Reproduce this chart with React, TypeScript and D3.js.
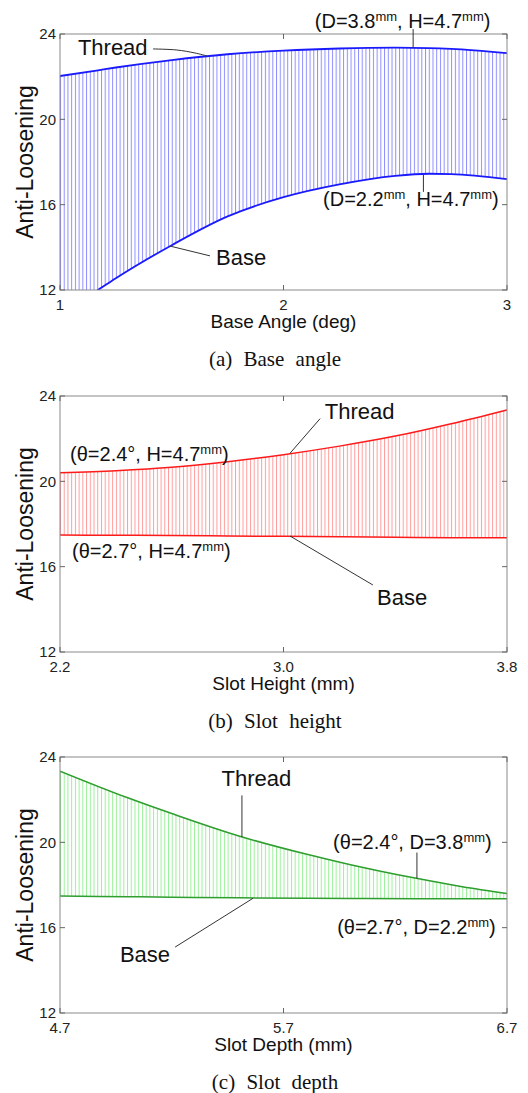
import React from "react";
import * as d3 from "d3";

// shared y axis
const yTicks = [12, 16, 20, 24];

// (a) base angle
const angleX = [1, 1.17, 1.25, 1.5, 1.75, 2, 2.25, 2.5, 2.65, 2.75, 3];
const angleThread = [22.03, 22.3, 22.43, 22.78, 23.05, 23.22, 23.32, 23.36, 23.34, 23.3, 23.1];
const angleBase = [10.9, 12.0, 12.55, 14.1, 15.45, 16.35, 16.95, 17.35, 17.45, 17.43, 17.2];
const angleTicks = [1, 2, 3];
const angleTickLabels = ["1", "2", "3"];

// (b) slot height
const heightX = [2.2, 2.4, 2.6, 2.8, 3.0, 3.2, 3.4, 3.6, 3.8];
const heightThread = [20.4, 20.5, 20.66, 20.92, 21.25, 21.65, 22.12, 22.7, 23.35];
const heightBase = [17.48, 17.47, 17.46, 17.44, 17.42, 17.4, 17.38, 17.36, 17.35];
const heightTicks = [2.2, 3.0, 3.8];
const heightTickLabels = ["2.2", "3.0", "3.8"];

// (c) slot depth
const depthX = [4.7, 5.0, 5.2, 5.5, 5.8, 6.0, 6.3, 6.5, 6.7];
const depthThread = [23.34, 22.1, 21.35, 20.3, 19.45, 18.95, 18.3, 17.92, 17.6];
const depthBase = [17.48, 17.45, 17.43, 17.4, 17.38, 17.37, 17.36, 17.36, 17.36];
const depthTicks = [4.7, 5.7, 6.7];
const depthTickLabels = ["4.7", "5.7", "6.7"];

// annotation texts ("^" = superscript)
const angleNoteText = [["Thread"], ["(D=3.8", "^mm", ", H=4.7", "^mm", ")"], ["(D=2.2", "^mm", ", H=4.7", "^mm", ")"], ["Base"]];
const angleNoteAt = [[1.08, 23.02], [2.14, 24.28], [2.177, 15.94], [1.698, 13.17]];
const angleLeaders = [
  [[1.416, 23.3], [1.523, 23.25], [1.604, 23.11], [1.658, 22.97]],
  [[2.58, 24.23], [2.58, 23.34]],
  [[2.626, 17.39], [2.626, 16.6]],
  [[1.492, 14.06], [1.671, 13.6]],
];

const heightNoteText = [["Thread"], ["(θ=2.4°, H=4.7", "^mm", ")"], ["(θ=2.7°, H=4.7", "^mm", ")"], ["Base"]];
const heightNoteAt = [[3.148, 22.94], [2.236, 20.95], [2.243, 16.4], [3.335, 14.2]];
const heightLeaders = [
  [[3.131, 22.94], [3.023, 21.31]],
  [[3.023, 17.44], [3.32, 15.14]],
];

const depthNoteText = [["Thread"], ["(θ=2.4°, D=3.8", "^mm", ")"], ["(θ=2.7°, D=2.2", "^mm", ")"], ["Base"]];
const depthNoteAt = [[5.423, 22.62], [5.922, 19.7], [5.94, 15.7], [4.968, 14.37]];
const depthLeaders = [
  [[5.514, 22.2], [5.514, 20.25]],
  [[6.297, 19.52], [6.297, 18.3]],
  [[5.215, 15.09], [5.564, 17.38]],
];

const X0 = 60, X1 = 507, PH = 256;
const SANS = "'Liberation Sans', Arial, sans-serif";
const SERIF = "'Liberation Serif', 'Times New Roman', serif";

function Note({ parts, x, y, size }) {
  let raised = false;
  return (
    <text x={x} y={y} fontSize={size} fill="#111" fontFamily={SANS}>
      {parts.map((p, i) => {
        if (p.startsWith("^")) {
          raised = true;
          return <tspan key={i} dy={-7} fontSize={13}>{p.slice(1)}</tspan>;
        }
        const dy = raised ? 7 : 0;
        raised = false;
        return <tspan key={i} dy={dy}>{p}</tspan>;
      })}
    </text>
  );
}

function Panel({ id, top, xs, thread, base, ticks, tickLabels, line, hatch, lw, xLabel, caption, noteText, noteAt, leaders }) {
  const x = d3.scaleLinear().domain([ticks[0], ticks[ticks.length - 1]]).range([X0, X1]);
  const y = d3.scaleLinear().domain([12, 24]).range([top + PH, top]);
  const pts = xs.map((v, i) => ({ x: v, t: thread[i], b: base[i] }));
  const area = d3.area<any>().x(d => x(d.x)).y0(d => y(d.b)).y1(d => y(d.t)).curve(d3.curveMonotoneX);
  const lineT = d3.line<any>().x(d => x(d.x)).y(d => y(d.t)).curve(d3.curveMonotoneX);
  const lineB = d3.line<any>().x(d => x(d.x)).y(d => y(d.b)).curve(d3.curveMonotoneX);
  const leader = d3.line<number[]>().x(d => x(d[0])).y(d => y(d[1])).curve(d3.curveCatmullRom);
  const step = (X1 - X0) / 120;
  const bottom = top + PH;
  return (
    <g>
      <defs>
        <clipPath id={`clip-${id}`}>
          <rect x={X0} y={top} width={X1 - X0} height={PH} />
        </clipPath>
        <pattern id={`hatch-${id}`} x={X0} y={0} width={step} height={8} patternUnits="userSpaceOnUse">
          <line x1={0.5} x2={0.5} y1={0} y2={8} stroke={hatch} strokeWidth={1} />
        </pattern>
      </defs>
      <g clipPath={`url(#clip-${id})`}>
        <path d={area(pts) || ""} fill={`url(#hatch-${id})`} />
        <path d={lineB(pts) || ""} fill="none" stroke={line} strokeWidth={lw} />
        <path d={lineT(pts) || ""} fill="none" stroke={line} strokeWidth={lw} />
      </g>
      <rect x={X0} y={top} width={X1 - X0} height={PH} fill="none" stroke="#8a8a8a" strokeWidth={1} />
      {ticks.map(t => (
        <g key={t} stroke="#666" strokeWidth={1}>
          <line x1={x(t)} x2={x(t)} y1={bottom} y2={bottom - 5} />
          <line x1={x(t)} x2={x(t)} y1={top} y2={top + 5} />
        </g>
      ))}
      {yTicks.map(t => (
        <g key={t} stroke="#666" strokeWidth={1}>
          <line x1={X0} x2={X0 + 5} y1={y(t)} y2={y(t)} />
          <line x1={X1} x2={X1 - 5} y1={y(t)} y2={y(t)} />
        </g>
      ))}
      {yTicks.map(t => (
        <text key={t} x={X0 - 4} y={y(t)} dy="0.35em" textAnchor="end" fontSize={15} fill="#222" fontFamily={SANS}>{t}</text>
      ))}
      {ticks.map((t, i) => (
        <text key={t} x={x(t)} y={bottom + 20} textAnchor="middle" fontSize={15} fill="#222" fontFamily={SANS}>{tickLabels[i]}</text>
      ))}
      <text x={x((ticks[0] + ticks[ticks.length - 1]) / 2)} y={bottom + 38} textAnchor="middle" fontSize={19} fill="#111" fontFamily={SANS}>{xLabel}</text>
      <text transform={`translate(33,${top + PH / 2}) rotate(-90)`} textAnchor="middle" fontSize={23} fill="#111" fontFamily={SANS}>Anti-Loosening</text>
      {leaders.map((l, i) => (
        <path key={i} d={leader(l) || ""} fill="none" stroke="#333" strokeWidth={1} />
      ))}
      {noteText.map((p, i) => (
        <Note key={i} parts={p} x={x(noteAt[i][0])} y={y(noteAt[i][1])} size={p.length === 1 ? 22 : 20} />
      ))}
      <text x={275} y={bottom + 76} textAnchor="middle" fontSize={21} fill="#111" fontFamily={SERIF} style={{ wordSpacing: "6px" }}>{caption}</text>
    </g>
  );
}

export default function App() {
  return (
    <div style={{ position: "absolute", left: 0, top: 0, background: "#fff" }}>
      <svg width={528} height={1093} style={{ display: "block" }}>
        <rect width={528} height={1093} fill="#fff" />
        <Panel id="a" top={34} xs={angleX} thread={angleThread} base={angleBase} ticks={angleTicks} tickLabels={angleTickLabels}
          line="#1a1aff" hatch="#8e8eff" lw={1.8} xLabel="Base Angle (deg)" caption="(a) Base angle"
          noteText={angleNoteText} noteAt={angleNoteAt} leaders={angleLeaders} />
        <Panel id="b" top={396} xs={heightX} thread={heightThread} base={heightBase} ticks={heightTicks} tickLabels={heightTickLabels}
          line="#ff1a1a" hatch="#ff9c9c" lw={1.5} xLabel="Slot Height (mm)" caption="(b) Slot height"
          noteText={heightNoteText} noteAt={heightNoteAt} leaders={heightLeaders} />
        <Panel id="c" top={757} xs={depthX} thread={depthThread} base={depthBase} ticks={depthTicks} tickLabels={depthTickLabels}
          line="#2e9e2e" hatch="#9af09a" lw={1.5} xLabel="Slot Depth (mm)" caption="(c) Slot depth"
          noteText={depthNoteText} noteAt={depthNoteAt} leaders={depthLeaders} />
      </svg>
    </div>
  );
}
